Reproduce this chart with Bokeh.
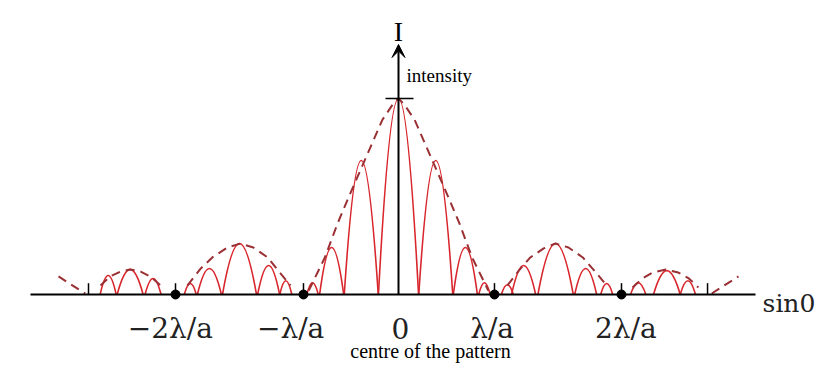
from bokeh.plotting import figure
from bokeh.models import Range1d, Arrow, VeeHead, ColumnDataSource
from bokeh.core.properties import value
from bokeh.embed import file_html
from bokeh.resources import INLINE

# ---- data (sin(theta) in units of lambda/a, intensity normalised) ----
fringe_center = [0.0, -0.39, 0.39, -0.70, 0.70, -0.90, 0.90,
                 -2.18, -1.98, -1.665, -1.36, -1.18,
                 1.14, 1.31, 1.645, 1.96, 2.18,
                 -3.04, -2.81, -2.57,
                 2.51, 2.81, 3.03]
fringe_halfwidth = [0.21, 0.178, 0.178, 0.126, 0.126, 0.06, 0.06,
                    0.063, 0.126, 0.178, 0.115, 0.063,
                    0.063, 0.126, 0.185, 0.115, 0.063,
                    0.084, 0.136, 0.084,
                    0.08, 0.14, 0.08]
fringe_height = [1.0, 0.684, 0.684, 0.24, 0.24, 0.06, 0.06,
                 0.056, 0.133, 0.26, 0.148, 0.07,
                 0.05, 0.148, 0.26, 0.133, 0.056,
                 0.097, 0.128, 0.082,
                 0.06, 0.122, 0.07]

env_central_x = [-0.94, -0.77, -0.64, -0.51, -0.34, -0.17, -0.06, 0.0,
                 0.06, 0.17, 0.34, 0.51, 0.64, 0.77, 0.94]
env_central_y = [0.02, 0.19, 0.36, 0.51, 0.70, 0.89, 0.97, 1.0,
                 0.97, 0.89, 0.70, 0.51, 0.36, 0.19, 0.02]
env_left2_x = [-2.21, -2.07, -1.95, -1.79, -1.654, -1.52, -1.37, -1.26, -1.13]
env_left2_y = [0.046, 0.133, 0.189, 0.24, 0.26, 0.24, 0.189, 0.122, 0.046]
env_right2_x = [1.14, 1.26, 1.38, 1.52, 1.644, 1.78, 1.93, 2.05, 2.18]
env_right2_y = [0.046, 0.122, 0.189, 0.235, 0.26, 0.24, 0.189, 0.122, 0.046]
env_left3_x = [-3.12, -3.02, -2.91, -2.81, -2.70, -2.60, -2.49]
env_left3_y = [0.046, 0.092, 0.117, 0.128, 0.117, 0.092, 0.046]
env_right3_x = [2.45, 2.555, 2.66, 2.80, 2.93, 3.04, 3.14]
env_right3_y = [0.036, 0.082, 0.112, 0.128, 0.112, 0.082, 0.036]
env_left4_x = [-3.56, -3.28]
env_left4_y = [0.092, 0.005]
env_right4_x = [3.28, 3.56]
env_right4_y = [0.005, 0.092]

marker_x = [-2.335, -0.995, 1.005, 2.335]
minor_tick_x = [-3.246, 3.236]
tick_labels = ["\u22122\u03bb/a", "\u2212\u03bb/a", "0", "\u03bb/a", "2\u03bb/a"]
tick_label_x = [-2.39, -1.13, 0.02, 0.98, 2.38]

# ---- layout constants ----
W, H = 834, 378
SX, SY = 95.5, 196.0          # px per data unit
X0PX, Y0PX = 398, 294         # origin pixel
FRINGE_COLOR = "#d8262c"
ENV_COLOR = "#9a3034"

p = figure(width=W, height=H, output_backend="svg", toolbar_location=None,
           x_range=Range1d(-X0PX / SX, (W - X0PX) / SX),
           y_range=Range1d(-(H - Y0PX) / SY, Y0PX / SY),
           x_axis_type=None, y_axis_type=None,
           min_border=0, min_border_left=0, min_border_right=0,
           min_border_top=0, min_border_bottom=0)
p.outline_line_color = None
p.background_fill_color = "white"
p.border_fill_color = "white"

# fringes as bezier lobes
src = ColumnDataSource(dict(
    x0=[c - w for c, w in zip(fringe_center, fringe_halfwidth)],
    x1=[c + w for c, w in zip(fringe_center, fringe_halfwidth)],
    y0=[0.0] * len(fringe_center),
    y1=[0.0] * len(fringe_center),
    cx0=[c - 0.3 * w for c, w in zip(fringe_center, fringe_halfwidth)],
    cx1=[c + 0.3 * w for c, w in zip(fringe_center, fringe_halfwidth)],
    cy0=[4.0 * h / 3.0 for h in fringe_height],
    cy1=[4.0 * h / 3.0 for h in fringe_height],
))
p.bezier(x0="x0", y0="y0", x1="x1", y1="y1", cx0="cx0", cy0="cy0",
         cx1="cx1", cy1="cy1", source=src, line_color=FRINGE_COLOR, line_width=1.6)

# envelope (dashed)
p.multi_line(xs=[env_central_x, env_left2_x, env_right2_x, env_left3_x,
                 env_right3_x, env_left4_x, env_right4_x],
             ys=[env_central_y, env_left2_y, env_right2_y, env_left3_y,
                 env_right3_y, env_left4_y, env_right4_y],
             line_color=ENV_COLOR, line_width=2, line_dash="9 6")

# axes
p.segment(x0=[(30 - X0PX) / SX], y0=[0], x1=[(755 - X0PX) / SX], y1=[0],
          line_color="black", line_width=2)
p.add_layout(Arrow(end=VeeHead(size=13, fill_color="black", line_color="black",
                               line_width=1),
                   x_start=0, y_start=0, x_end=0, y_end=(Y0PX - 44) / SY,
                   line_color="black", line_width=2))
p.segment(x0=[(385 - X0PX) / SX], y0=[1.0], x1=[(413 - X0PX) / SX], y1=[1.0],
          line_color="black", line_width=1.5)
tick_xs = marker_x + minor_tick_x
p.segment(x0=tick_xs, y0=[0] * len(tick_xs), x1=tick_xs, y1=[0.058] * len(tick_xs),
          line_color="black", line_width=1.5)
p.scatter(x=marker_x, y=[0] * len(marker_x), size=9, color="black")

# texts
p.text(x=tick_label_x, y=[-0.173] * len(tick_labels), text=tick_labels,
       text_font=value("DejaVu Serif"), text_font_size="28px",
       text_align="center", text_baseline="alphabetic", text_color="#222222")
p.text(x=[3.812], y=[-0.046], text=["sin0"], text_font=value("DejaVu Serif"),
       text_font_size="25px", text_align="left", text_baseline="alphabetic",
       text_color="#222222")
p.text(x=[0.0], y=[(Y0PX - 31) / SY], text=["I"], text_font=value("Liberation Serif"),
       text_font_size="28px", text_align="center", text_baseline="alphabetic",
       text_color="black")
p.text(x=[(406 - X0PX) / SX], y=[(Y0PX - 75) / SY], text=["intensity"],
       text_font=value("Liberation Serif"), text_font_size="19px",
       text_align="left", text_baseline="alphabetic", text_color="black")
p.text(x=[(430 - X0PX) / SX], y=[(Y0PX - 350) / SY], text=["centre of the pattern"],
       text_font=value("Liberation Serif"), text_font_size="20px",
       text_align="center", text_baseline="alphabetic", text_color="black")

open("out.html", "w").write(file_html(p, INLINE))
